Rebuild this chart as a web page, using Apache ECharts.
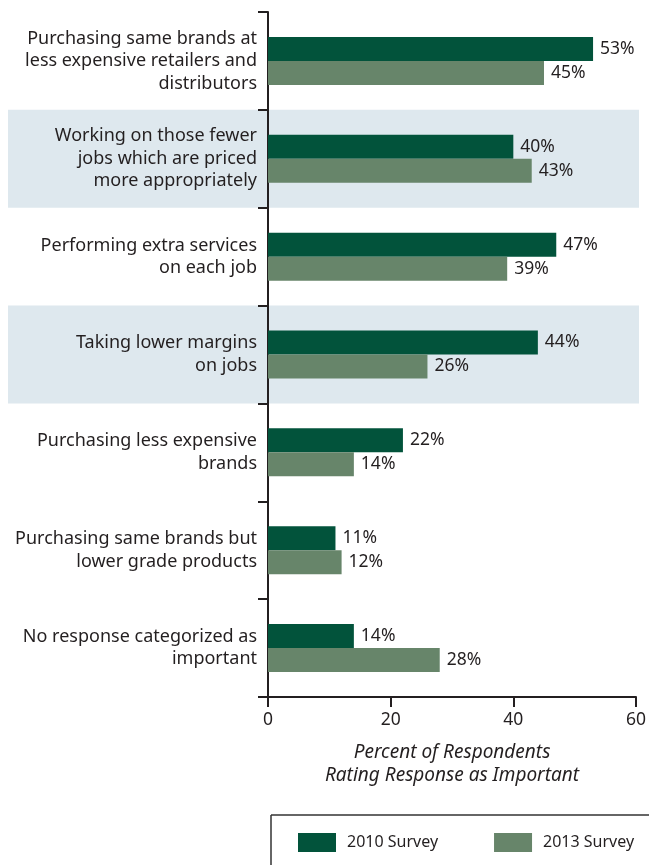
<!DOCTYPE html>
<html>
<head>
<meta charset="utf-8">
<script src="https://cdn.jsdelivr.net/npm/echarts@6/dist/echarts.min.js"></script>
<style>
  html, body { margin: 0; padding: 0; background: #fff; }
  #chart { width: 649px; height: 865px; }
</style>
</head>
<body>
<div id="chart"></div>
<script>
// Survey responses, listed top to bottom
const categories = [
  'Purchasing same brands at\nless expensive retailers and\ndistributors',
  'Working on those fewer\njobs which are priced\nmore appropriately',
  'Performing extra services\non each job',
  'Taking lower margins\non jobs',
  'Purchasing less expensive\nbrands',
  'Purchasing same brands but\nlower grade products',
  'No response categorized as\nimportant'
];
const survey2010 = [53, 40, 47, 44, 22, 11, 14];
const survey2013 = [45, 43, 39, 26, 14, 12, 28];
const seriesNames = ['2010 Survey', '2013 Survey'];
// rows drawn on a tinted band
const shadedRows = [1, 3];
const xTicks = [0, 20, 40, 60];

const FONT = '"Noto Sans", "Open Sans", sans-serif';
const DARK = '#02533b';
const LIGHT = '#67856a';
const BAND = '#dee8ee';
const INK = '#231f20';

const chart = echarts.init(document.getElementById('chart'), null, { renderer: 'canvas' });

const valueLabel = {
  show: true,
  position: 'right',
  distance: 7,
  formatter: p => p.value + '%',
  fontFamily: FONT,
  fontSize: 17.5,
  color: INK
};

chart.setOption({
  animation: false,
  backgroundColor: '#fff',
  grid: { left: 268, top: 12, width: 369, height: 685, containLabel: false },
  xAxis: {
    type: 'value',
    min: xTicks[0],
    max: xTicks[xTicks.length - 1],
    interval: 20,
    splitLine: { show: false },
    axisLine: { show: true, lineStyle: { color: INK, width: 2 } },
    axisTick: { show: true, length: 10, lineStyle: { color: INK, width: 2 } },
    axisLabel: { fontFamily: FONT, fontSize: 17.5, color: INK, margin: 14 },
    name: 'Percent of Respondents\nRating Response as Important',
    nameLocation: 'middle',
    nameGap: 44,
    nameTextStyle: { fontFamily: FONT, fontSize: 19, fontStyle: 'italic', color: INK, lineHeight: 23, verticalAlign: 'top' }
  },
  yAxis: {
    type: 'category',
    inverse: true,
    data: categories,
    axisLine: { show: true, lineStyle: { color: INK, width: 2 } },
    axisTick: { show: true, length: 10, lineStyle: { color: INK, width: 2 } },
    axisLabel: { fontFamily: FONT, fontSize: 18, color: INK, lineHeight: 22.5, margin: 11, align: 'right' }
  },
  legend: {
    data: seriesNames,
    left: 298,
    top: 833,
    padding: 0,
    itemWidth: 38,
    itemHeight: 19,
    itemGap: 56,
    icon: 'rect',
    textStyle: { fontFamily: FONT, fontSize: 16, color: INK, padding: [0, 0, 0, 6] }
  },
  series: [
    {
      name: seriesNames[0], type: 'bar', data: survey2010,
      barWidth: 24, barGap: '0%', itemStyle: { color: DARK }, label: valueLabel, z: 3
    },
    {
      name: seriesNames[1], type: 'bar', data: survey2013,
      barWidth: 24, barGap: '0%', itemStyle: { color: LIGHT }, label: valueLabel, z: 3
    }
  ]
});

// Tinted bands behind alternate rows plus the legend frame
function drawDecor() {
  const step = chart.convertToPixel({ yAxisIndex: 0 }, 1) - chart.convertToPixel({ yAxisIndex: 0 }, 0);
  const elements = shadedRows.map(i => {
    const cy = chart.convertToPixel({ yAxisIndex: 0 }, i);
    return {
      type: 'rect', z: -10, silent: true,
      shape: { x: 8, y: cy - step / 2, width: 631, height: step },
      style: { fill: BAND }
    };
  });
  elements.push(
    { type: 'line', silent: true, shape: { x1: 271, y1: 815, x2: 649, y2: 815 }, style: { stroke: '#333', lineWidth: 1.5 } },
    { type: 'line', silent: true, shape: { x1: 271, y1: 815, x2: 271, y2: 865 }, style: { stroke: '#333', lineWidth: 1.5 } }
  );
  chart.setOption({ graphic: { elements } });
}
drawDecor();
</script>
</body>
</html>
